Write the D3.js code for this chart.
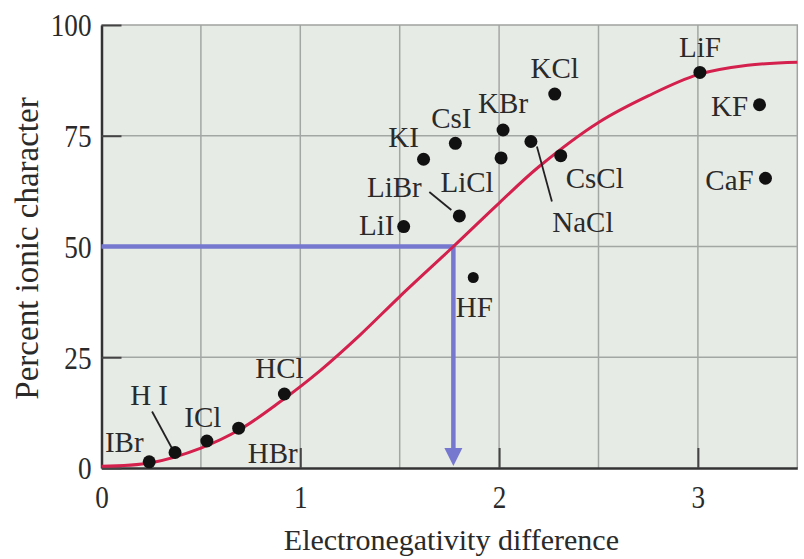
<!DOCTYPE html>
<html>
<head>
<meta charset="utf-8">
<script src="https://cdn.jsdelivr.net/npm/d3@7"></script>
<style>
  body { margin: 0; background: #fff; }
  text { font-family: "Liberation Serif", "Times New Roman", serif; fill: #2a2a2a; }
</style>
</head>
<body>
<div id="graph-area"></div>
<script>
// Data
var compounds = ["IBr", "HI", "ICl", "HBr", "HCl", "HF", "LiI", "LiBr", "KI", "CsI",
                 "KBr", "LiCl", "NaCl", "CsCl", "KCl", "LiF", "KF", "CaF"];
var enDiff = [0.24, 0.37, 0.53, 0.69, 0.92, 1.87, 1.52, 1.80, 1.62, 1.78,
              2.02, 2.01, 2.16, 2.31, 2.28, 3.01, 3.31, 3.34];
var ionicPct = [1.4, 3.5, 6.1, 9.0, 16.7, 43, 54.5, 56.9, 69.7, 73.3,
                76.3, 70, 73.7, 70.5, 84.4, 89.3, 82, 65.4];

// red curve
var curveX = [0, 0.25, 0.5, 0.7, 0.9, 1.1, 1.3, 1.5, 1.77, 2.0, 2.2, 2.5, 2.75, 3.0, 3.25, 3.5];
var curveY = [0.4, 1.2, 4.5, 8.8, 15, 22, 30, 38.7, 50, 59.8, 68, 78, 84, 88.8, 90.9, 91.6];

// blue guide: 50 % reached at this difference
var guideX = 1.77;
var guideY = 50;

var xTicks = [0, 1, 2, 3];
var yTicks = [0, 25, 50, 75, 100];

// label placement (pixels, relative to the dot)
var labelOffset = {
  IBr: [-25, -10], HI: [-26, -47], ICl: [-4, -14], HBr: [34, 35], HCl: [-5, -16],
  HF: [1, 39], LiI: [-27, 8], LiBr: [-65, -19], KI: [-20, -12], CsI: [-4, -15],
  KBr: [0, -17], LiCl: [-34, 34], NaCl: [52, 90], CsCl: [34, 32], KCl: [0, -16],
  LiF: [0, -15], KF: [-30, 11], CaF: [-36, 12]
};
var leaders = {
  HI: [[-23, -41], [-3, -4]],
  LiBr: [[-30, -24], [-8, -6]],
  NaCl: [[6, 5], [21, 60]]
};

var points = compounds.map((c, i) => ({name: c, x: enDiff[i], y: ionicPct[i]}));
var curve = curveX.map((x, i) => ({x: x, y: curveY[i]}));

var W = 804, H = 559;
var margin = {top: 25, right: 6.7, bottom: 91, left: 101.5};
var width = W - margin.left - margin.right;
var height = H - margin.top - margin.bottom;

var x = d3.scaleLinear().domain([0, 3.5]).range([0, width]);
var y = d3.scaleLinear().domain([0, 100]).range([height, 0]);

var svg = d3.select("#graph-area")
  .append("svg")
  .attr("width", W)
  .attr("height", H);

var g = svg.append("g")
  .attr("transform", "translate(" + margin.left + "," + margin.top + ")");

// plot background
g.append("rect")
  .attr("width", width)
  .attr("height", height)
  .attr("fill", "#e7ebe6");

// grid
g.append("g").selectAll("line")
  .data(d3.range(0.5, 3.5, 0.5))
  .join("line")
  .attr("x1", d => x(d)).attr("x2", d => x(d))
  .attr("y1", 0).attr("y2", height)
  .attr("stroke", "#a3a7a3")
  .attr("stroke-width", 1.5);

g.append("g").selectAll("line")
  .data([25, 50, 75])
  .join("line")
  .attr("x1", 0).attr("x2", width)
  .attr("y1", d => y(d)).attr("y2", d => y(d))
  .attr("stroke", "#a3a7a3")
  .attr("stroke-width", 1.5);

// top + right frame (light)
g.append("path")
  .attr("d", "M0,0H" + width + "V" + height)
  .attr("fill", "none")
  .attr("stroke", "#a0a3a0")
  .attr("stroke-width", 1.5);

// axes with inward ticks
var xAxis = g.append("g")
  .attr("transform", "translate(0," + height + ")")
  .call(d3.axisBottom(x).tickValues(xTicks).tickFormat(d3.format("d"))
    .tickSize(-20).tickSizeOuter(0).tickPadding(0));
var yAxis = g.append("g")
  .call(d3.axisLeft(y).tickValues(yTicks).tickFormat(d3.format("d"))
    .tickSize(-20).tickSizeOuter(0).tickPadding(0));

[xAxis, yAxis].forEach(a => {
  a.select(".domain").attr("stroke", "#333").attr("stroke-width", 2.5);
  a.selectAll(".tick line").attr("stroke", "#444").attr("stroke-width", 2);
  a.selectAll(".tick text").attr("fill", "#2a2a2a").attr("font-size", 32)
    .attr("font-family", "Liberation Serif, serif");
});
xAxis.selectAll(".tick text")
  .attr("y", 0).attr("dy", null)
  .attr("transform", "translate(0,40) scale(0.85,1)");
yAxis.selectAll(".tick text")
  .attr("x", 0).attr("dy", "0.34em")
  .attr("transform", "translate(-10,0) scale(0.85,1)");

// axis titles
g.append("text")
  .attr("x", width / 2 + 2)
  .attr("y", height + 82)
  .attr("text-anchor", "middle")
  .attr("font-size", 30)
  .text("Electronegativity difference");

g.append("text")
  .attr("transform", "translate(-64," + (y(50) + 2) + ") rotate(-90)")
  .attr("text-anchor", "middle")
  .attr("font-size", 33)
  .text("Percent ionic character");

// blue guide with arrow
var blue = "#7678cf";
g.append("path")
  .attr("d", "M0," + y(guideY) + "H" + x(guideX) + "V" + (y(0) - 16))
  .attr("fill", "none")
  .attr("stroke", blue)
  .attr("stroke-width", 4.5);
g.append("path")
  .attr("d", "M" + (x(guideX) - 9) + "," + (y(0) - 20) + "L" + (x(guideX) + 9) + "," + (y(0) - 20) +
             "L" + x(guideX) + "," + (y(0) - 2) + "Z")
  .attr("fill", blue);

// red curve
var line = d3.line()
  .x(d => x(d.x))
  .y(d => y(d.y))
  .curve(d3.curveCatmullRom.alpha(0.5));

g.append("path")
  .attr("d", line(curve))
  .attr("fill", "none")
  .attr("stroke", "#d3204c")
  .attr("stroke-width", 3);

// leader lines
g.append("g").selectAll("line")
  .data(points.filter(p => leaders[p.name]))
  .join("line")
  .attr("x1", p => x(p.x) + leaders[p.name][0][0])
  .attr("y1", p => y(p.y) + leaders[p.name][0][1])
  .attr("x2", p => x(p.x) + leaders[p.name][1][0])
  .attr("y2", p => y(p.y) + leaders[p.name][1][1])
  .attr("stroke", "#222")
  .attr("stroke-width", 1.8);

// dots
g.append("g").selectAll("circle")
  .data(points)
  .join("circle")
  .attr("cx", p => x(p.x))
  .attr("cy", p => y(p.y))
  .attr("r", p => p.name == "HF" ? 5.5 : 6.5)
  .attr("fill", "#111");

// labels
g.append("g").selectAll("text")
  .data(points)
  .join("text")
  .attr("x", p => x(p.x) + labelOffset[p.name][0])
  .attr("y", p => y(p.y) + labelOffset[p.name][1])
  .attr("text-anchor", "middle")
  .attr("font-size", 29)
  .text(p => p.name == "HI" ? "H I" : p.name);
</script>
</body>
</html>
